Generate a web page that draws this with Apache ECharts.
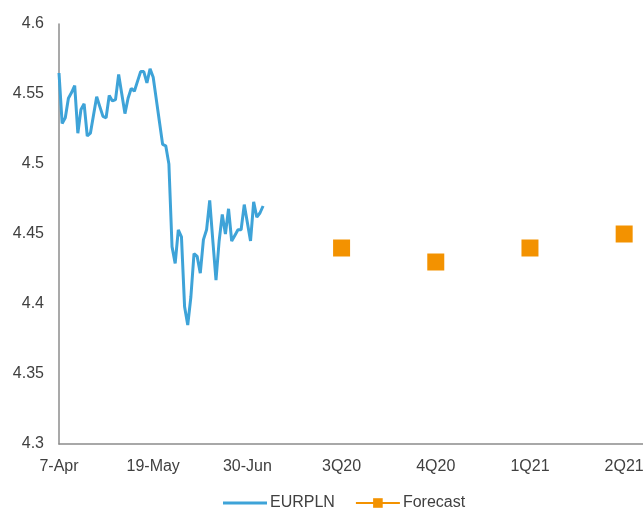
<!DOCTYPE html>
<html>
<head>
<meta charset="utf-8">
<script src="https://cdn.jsdelivr.net/npm/echarts@6/dist/echarts.min.js"></script>
<style>
  html, body { margin: 0; padding: 0; background: #ffffff; }
  #chart { width: 643px; height: 509px; }
</style>
</head>
<body>
<div id="chart"></div>
<script>
// Trading days, 7 Apr – 7 Jul 2020
const tradingDays = [
  '7-Apr','8-Apr','9-Apr','10-Apr','13-Apr','14-Apr','15-Apr','16-Apr','17-Apr','20-Apr',
  '21-Apr','22-Apr','23-Apr','24-Apr','27-Apr','28-Apr','29-Apr','30-Apr','1-May','4-May',
  '5-May','6-May','7-May','8-May','11-May','12-May','13-May','14-May','15-May','18-May',
  '19-May','20-May','21-May','22-May','25-May','26-May','27-May','28-May','29-May','1-Jun',
  '2-Jun','3-Jun','4-Jun','5-Jun','8-Jun','9-Jun','10-Jun','11-Jun','12-Jun','15-Jun',
  '16-Jun','17-Jun','18-Jun','19-Jun','22-Jun','23-Jun','24-Jun','25-Jun','26-Jun','29-Jun',
  '30-Jun','1-Jul','2-Jul','3-Jul','6-Jul','7-Jul'
];

// EUR/PLN daily fixing
const eurpln = [
  4.565, 4.529, 4.533, 4.547, 4.551, 4.556, 4.522, 4.539, 4.543, 4.520,
  4.522, 4.535, 4.548, 4.541, 4.534, 4.533, 4.549, 4.545, 4.546, 4.564,
  4.550, 4.536, 4.547, 4.554, 4.552, 4.559, 4.566, 4.566, 4.558, 4.568,
  4.562, 4.546, 4.530, 4.514, 4.513, 4.500, 4.441, 4.429, 4.453, 4.448,
  4.398, 4.385, 4.405, 4.436, 4.434, 4.422, 4.446, 4.453, 4.474, 4.445,
  4.417, 4.445, 4.464, 4.450, 4.468, 4.445, 4.449, 4.453, 4.453, 4.471,
  4.458, 4.445, 4.473, 4.462, 4.465, 4.470
];

// Quarterly forecast
const quarters = ['3Q20', '4Q20', '1Q21', '2Q21'];
const forecast = [4.44, 4.43, 4.44, 4.45];

// Value axis ticks
const yMin = 4.3, yMax = 4.6, yStep = 0.05;

// Category axis: one slot per trading day, quarters spaced like the date labels
const LABEL_EVERY = 30;
const TOTAL_SLOTS = 187;
const categories = [];
const lineData = [];
const forecastData = [];
for (let i = 0; i < TOTAL_SLOTS; i++) {
  let name = '';
  if (i < tradingDays.length) name = tradingDays[i];
  const q = i / LABEL_EVERY - 3;
  const isQuarter = Number.isInteger(q) && q >= 0 && q < quarters.length;
  if (isQuarter) name = quarters[q];
  categories.push(name || ('_' + i));
  lineData.push(i < eurpln.length ? eurpln[i] : null);
  forecastData.push(isQuarter ? forecast[q] : null);
}

const textColor = '#404040';
const fontFamily = 'Liberation Sans, Arial, sans-serif';

const chart = echarts.init(document.getElementById('chart'), null, { renderer: 'canvas' });
chart.setOption({
  animation: false,
  backgroundColor: '#ffffff',
  grid: { left: 59, right: 0, top: 24, bottom: 65, containLabel: false, outerBoundsMode: 'none' },
  xAxis: {
    type: 'category',
    data: categories,
    boundaryGap: false,
    axisLine: { lineStyle: { color: '#8c8c8c', width: 1.5 } },
    axisTick: { show: false },
    splitLine: { show: false },
    axisLabel: {
      interval: (idx) => idx % LABEL_EVERY === 0,
      formatter: (v) => (v.charAt(0) === '_' ? '' : v),
      color: textColor,
      fontSize: 16,
      fontFamily: fontFamily,
      margin: 15,
      hideOverlap: false
    }
  },
  yAxis: {
    type: 'value',
    min: yMin,
    max: yMax,
    interval: yStep,
    axisLine: { show: true, lineStyle: { color: '#8c8c8c', width: 1.5 } },
    axisTick: { show: false },
    splitLine: { show: false },
    axisLabel: {
      color: textColor,
      fontSize: 16,
      fontFamily: fontFamily,
      margin: 15,
      formatter: (v) => String(parseFloat(v.toFixed(2)))
    }
  },
  legend: {
    bottom: -2,
    left: 223,
    padding: 0,
    itemWidth: 44,
    itemHeight: 12,
    itemGap: 20,
    symbolKeepAspect: true,
    textStyle: { color: textColor, fontSize: 16, fontFamily: fontFamily, padding: [0, 0, 0, -2] },
    data: [
      { name: 'EURPLN', icon: 'path://M0 0H44V3H0Z' },
      { name: 'Forecast' }
    ]
  },
  series: [
    {
      name: 'EURPLN',
      type: 'line',
      data: lineData,
      symbol: 'none',
      showSymbol: false,
      connectNulls: false,
      lineStyle: { color: '#3ea3d8', width: 3 },
      itemStyle: { color: '#3ea3d8' }
    },
    {
      name: 'Forecast',
      type: 'line',
      data: forecastData,
      symbol: 'rect',
      symbolSize: 17,
      showAllSymbol: true,
      connectNulls: false,
      lineStyle: { color: '#f39200', width: 3 },
      itemStyle: { color: '#f39200' }
    }
  ]
});
</script>
</body>
</html>
